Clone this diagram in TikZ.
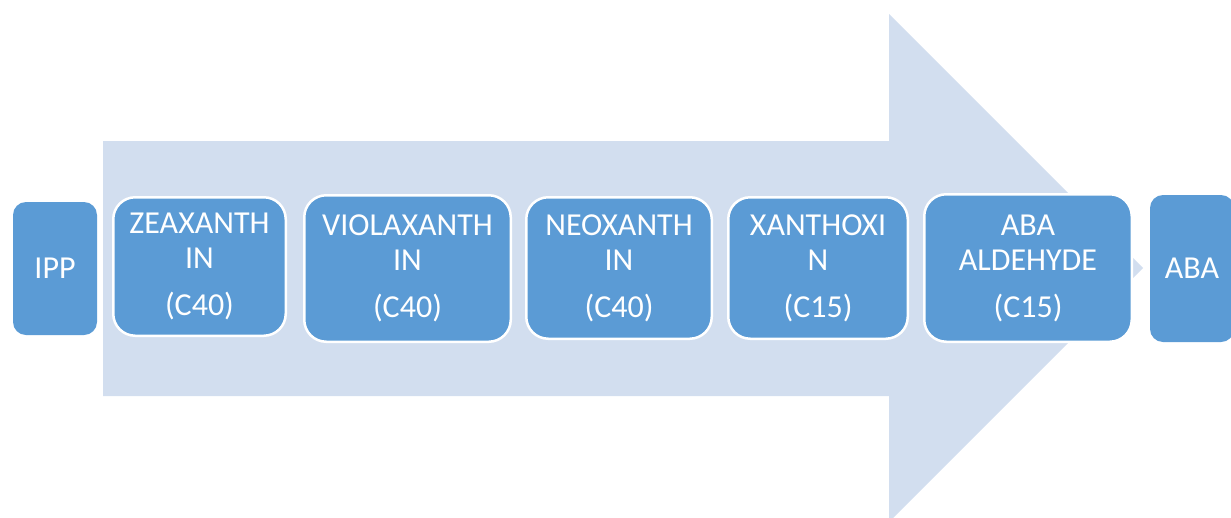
\documentclass[tikz,border=0pt]{standalone}
\usepackage{fontspec}
\setmainfont{Carlito}
\definecolor{boxblue}{HTML}{5B9BD5}
\definecolor{arrowblue}{HTML}{D2DEEF}
\tikzset{
  stagebox/.style={rounded corners=22pt, fill=boxblue, draw=white, line width=2.5pt,
    text=white, align=center, inner sep=0pt, font=\fontsize{32}{35}\selectfont},
  endbox/.style={stagebox, draw=none, rounded corners=13pt},
}
\begin{document}
\begin{tikzpicture}[x=1pt,y=-1pt]
\useasboundingbox (0,0) rectangle (1231,517);
\clip (0,0) rectangle (1231,517);
\fill[arrowblue] (103,141) -- (889,141) -- (889,14) -- (1143,268) -- (889,522) -- (889,396) -- (103,396) -- cycle;
\node[endbox, minimum width=84pt, minimum height=133pt] (ipp) at (55,268.5) {IPP};
\node[stagebox, minimum width=172.5pt, minimum height=138.5pt] (zea) at (199.5,266.5) {ZEAXANTH\\IN\\[12pt](C40)};
\node[stagebox, minimum width=206.5pt, minimum height=146.5pt] (vio) at (407.5,268.5) {VIOLAXANTH\\IN\\[12pt](C40)};
\node[stagebox, minimum width=185.5pt, minimum height=141.5pt] (neo) at (619,268) {NEOXANTH\\IN\\[12pt](C40)};
\node[stagebox, minimum width=179.5pt, minimum height=141.5pt] (xan) at (818,268) {XANTHOXI\\N\\[12pt](C15)};
\node[stagebox, minimum width=207.5pt, minimum height=147.5pt] (ald) at (1028,268) {ABA\\ALDEHYDE\\[12pt](C15)};
\node[endbox, minimum width=84pt, minimum height=147pt] (aba) at (1192,268.5) {ABA};
\end{tikzpicture}
\end{document}
